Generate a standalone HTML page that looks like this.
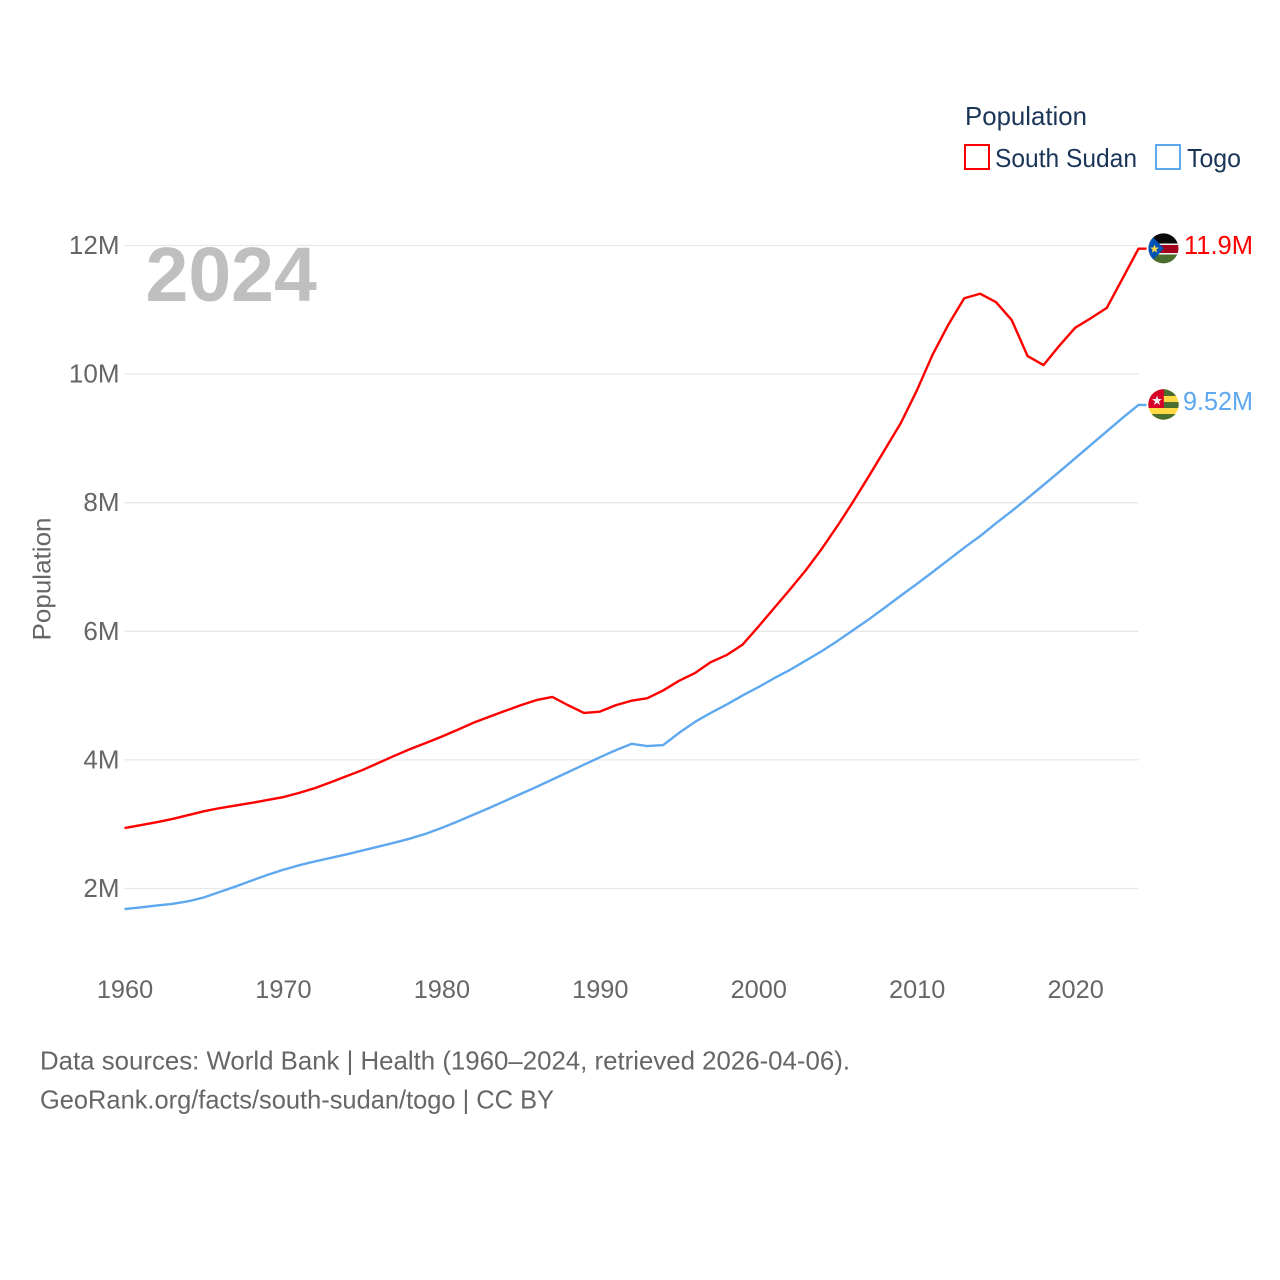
<!DOCTYPE html>
<html lang="en">
<head>
<meta charset="utf-8">
<title>Population: South Sudan and Togo</title>
<style>
html,body{margin:0;padding:0;background:#fff;}
#chart{display:block;width:1280px;height:1280px;font-family:"Liberation Sans",sans-serif;}
</style>
</head>
<body>
<svg id="chart" xmlns="http://www.w3.org/2000/svg" width="1280" height="1280" viewBox="0 0 1280 1280">
  <rect x="0" y="0" width="1280" height="1280" fill="#fff"/>
  <g id="grid"></g>
  <text x="145.5" y="301" font-size="77" font-weight="700" fill="#bfbfbf">2024</text>
  <g id="yticks"></g>
  <g id="xticks"></g>
  <text transform="translate(50.5,579) rotate(-90)" text-anchor="middle" font-size="25" fill="#666" textLength="123" lengthAdjust="spacingAndGlyphs">Population</text>
  <g id="series"></g>

  <g>
    <text x="965" y="125" font-size="26" fill="#1a3557" textLength="122" lengthAdjust="spacingAndGlyphs">Population</text>
    <g>
      <rect x="965" y="145" width="24" height="24" fill="none" stroke="#ff0000" stroke-width="2"/>
      <text x="995" y="167" font-size="26" fill="#1a3557" textLength="142" lengthAdjust="spacingAndGlyphs">South Sudan</text>
    </g>
    <g>
      <rect x="1156" y="145" width="24" height="24" fill="none" stroke="#5ea8f0" stroke-width="2"/>
      <text x="1187" y="167" font-size="26" fill="#1a3557" textLength="54" lengthAdjust="spacingAndGlyphs">Togo</text>
    </g>
  </g>

  <defs>
    <clipPath id="ssClip"><circle cx="1163.5" cy="248.4" r="15"/></clipPath>
    <clipPath id="tgClip"><circle cx="1163.5" cy="404.5" r="15.2"/></clipPath>
  </defs>
  <g clip-path="url(#ssClip)">
    <rect x="1148" y="232" width="32" height="12" fill="#0a0a0a"/>
    <rect x="1148" y="243.5" width="32" height="1.5" fill="#f2f2f2"/>
    <rect x="1148" y="245" width="32" height="8" fill="#a2001d"/>
    <rect x="1148" y="253" width="32" height="1.5" fill="#f2f2f2"/>
    <rect x="1148" y="254.5" width="32" height="11" fill="#496e2d"/>
    <polygon points="1148,232 1164,248.5 1148,265" fill="#0052b4"/>
    <polygon points="1154.5,244.5 1155.6,247.5 1158.8,247.6 1156.3,249.6 1157.2,252.7 1154.5,250.9 1151.8,252.7 1152.7,249.6 1150.2,247.6 1153.4,247.5" fill="#ffda44"/>
  </g>
  <g clip-path="url(#tgClip)">
    <rect x="1148" y="389" width="32" height="32" fill="#ffda44"/>
    <rect x="1148" y="389" width="32" height="7" fill="#496e2d"/>
    <rect x="1148" y="402" width="32" height="6" fill="#496e2d"/>
    <rect x="1148" y="414" width="32" height="7" fill="#496e2d"/>
    <rect x="1148" y="389" width="15.8" height="19" fill="#d80027"/>
    <polygon points="1157,395.5 1158.2,399 1162,399.1 1159,401.4 1160,405 1157,402.9 1154,405 1155,401.4 1152,399.1 1155.8,399" fill="#f0f0f0"/>
  </g>

  <text x="1184" y="254" font-size="26" fill="#ff0000" textLength="69" lengthAdjust="spacingAndGlyphs">11.9M</text>
  <text x="1183" y="410" font-size="26" fill="#5ea8f0" textLength="70" lengthAdjust="spacingAndGlyphs">9.52M</text>

  <g>
    <text x="40" y="1069.5" font-size="26" fill="#666" textLength="810" lengthAdjust="spacingAndGlyphs">Data sources: World Bank | Health (1960–2024, retrieved 2026-04-06).</text>
    <text x="40" y="1108.5" font-size="26" fill="#666" textLength="514" lengthAdjust="spacingAndGlyphs">GeoRank.org/facts/south-sudan/togo | CC BY</text>
  </g>
</svg>
<script>
const years = [1960,1961,1962,1963,1964,1965,1966,1967,1968,1969,1970,1971,1972,1973,1974,1975,1976,1977,1978,1979,1980,1981,1982,1983,1984,1985,1986,1987,1988,1989,1990,1991,1992,1993,1994,1995,1996,1997,1998,1999,2000,2001,2002,2003,2004,2005,2006,2007,2008,2009,2010,2011,2012,2013,2014,2015,2016,2017,2018,2019,2020,2021,2022,2023,2024];
const southSudan = [2.94,2.985,3.03,3.08,3.14,3.20,3.25,3.29,3.33,3.375,3.42,3.485,3.56,3.65,3.745,3.84,3.95,4.06,4.165,4.26,4.36,4.465,4.575,4.67,4.76,4.85,4.93,4.98,4.85,4.73,4.75,4.85,4.92,4.96,5.08,5.23,5.35,5.52,5.63,5.79,6.07,6.36,6.65,6.95,7.28,7.64,8.02,8.42,8.83,9.24,9.74,10.30,10.77,11.18,11.25,11.12,10.84,10.28,10.14,10.44,10.72,10.87,11.03,11.49,11.95];
const togo = [1.68,1.705,1.735,1.76,1.80,1.86,1.945,2.03,2.12,2.21,2.29,2.36,2.42,2.475,2.53,2.59,2.65,2.71,2.775,2.85,2.94,3.04,3.145,3.25,3.36,3.47,3.58,3.695,3.81,3.925,4.04,4.15,4.25,4.215,4.23,4.42,4.59,4.73,4.86,5.00,5.13,5.27,5.40,5.545,5.69,5.85,6.02,6.19,6.37,6.555,6.735,6.92,7.11,7.30,7.48,7.68,7.87,8.07,8.275,8.48,8.69,8.90,9.11,9.32,9.52];
const yTickValues = [2,4,6,8,10,12];
const yTickLabels = ["2M","4M","6M","8M","10M","12M"];
const xTickValues = [1960,1970,1980,1990,2000,2010,2020];
const xTickLabels = ["1960","1970","1980","1990","2000","2010","2020"];

const NS = "http://www.w3.org/2000/svg";
function xScale(year){ return 124.5 + (year - 1960) * (1138.5 - 124.5) / 64; }
function yScale(v){ return 888.5 - (v - 2) * (888.5 - 245.5) / 10; }
function make(tag, attrs, parent){
  const el = document.createElementNS(NS, tag);
  for (const k in attrs) el.setAttribute(k, attrs[k]);
  parent.appendChild(el);
  return el;
}

const gridGroup = document.getElementById("grid");
const yTickGroup = document.getElementById("yticks");
const xTickGroup = document.getElementById("xticks");
const seriesGroup = document.getElementById("series");

yTickValues.forEach(function(v, i){
  const line = make("line", {x1:124.5, x2:1138.5, y1:yScale(v), y2:yScale(v), stroke:"#e8e8e8", "stroke-width":1.3}, gridGroup);
  
  
  const label = make("text", {x:119.5, y:yScale(v) + 8.5, "text-anchor":"end", "font-size":26, fill:"#666"}, yTickGroup);
  label.textContent = yTickLabels[i];
  
  
});

xTickValues.forEach(function(y, i){
  const label = make("text", {x:xScale(y) + 0.5, y:998, "text-anchor":"middle", "font-size":25.3, fill:"#666"}, xTickGroup);
  label.textContent = xTickLabels[i];
  
  
});

function linePoints(values){
  const pts = values.map(function(v, i){ return xScale(years[i]).toFixed(2) + "," + yScale(v).toFixed(2); });
  const last = values[values.length - 1];
  pts.push((xScale(years[years.length - 1]) + 8).toFixed(2) + "," + yScale(last).toFixed(2));
  return pts.join(" ");
}

const redLine = make("polyline", {points:linePoints(southSudan), fill:"none", stroke:"#ff0000", "stroke-width":2.4, "stroke-linejoin":"round"}, seriesGroup);



const blueLine = make("polyline", {points:linePoints(togo), fill:"none", stroke:"#5ea8f0", "stroke-width":2.4, "stroke-linejoin":"round"}, seriesGroup);


</script>
</body>
</html>
